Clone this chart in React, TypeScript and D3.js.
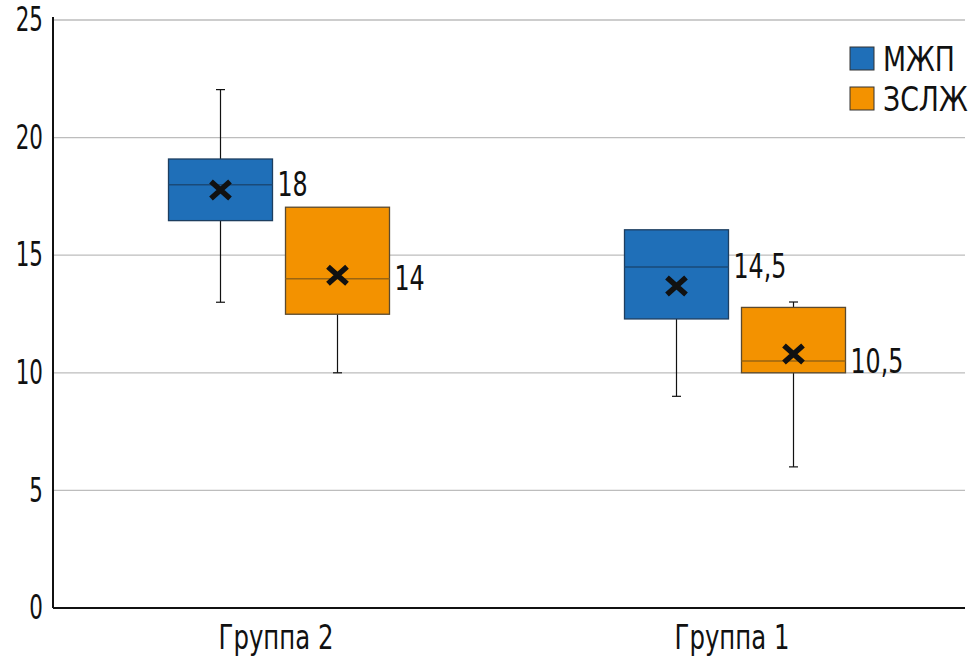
import React from "react";
import * as d3 from "d3";

const groups = ["Группа 2", "Группа 1"];
const seriesNames = ["МЖП", "ЗСЛЖ"];
const seriesColors = ["#1F6FB8", "#F39200"];
const seriesBorders = ["#1d3e60", "#5b4a2e"];
const medianColors = ["#1a4a78", "#9a6512"];

// per series, per group
const whiskerLow = [[13, 9], [10, 6]];
const q1 = [[16.47, 12.29], [12.49, 10]];
const median = [[18, 14.5], [14, 10.5]];
const q3 = [[19.09, 16.08], [17.04, 12.78]];
const whiskerHigh = [[22.04, 16.08], [17.04, 13.01]];
const mean = [[17.77, 13.69], [14.15, 10.8]];
const medianLabels = [["18", "14,5"], ["14", "10,5"]];

const yTicks = [0, 5, 10, 15, 20, 25];

const W = 980;
const H = 659;
const FONT = "'DejaVu Sans', sans-serif";

const T = ({ x, y, sx, children, ...rest }: any) => (
  <g transform={`translate(${x},${y}) scale(${sx},1)`}>
    <text x={0} y={0} fontFamily={FONT} fontSize={33} fill="#111" {...rest}>
      {children}
    </text>
  </g>
);

export default function App() {
  const left = 53;
  const right = 965;
  const top = 20;
  const bottom = 608;

  const y = d3.scaleLinear().domain([0, 25]).range([bottom, top]);
  const x0 = d3.scaleBand().domain(groups).range([left, right]);
  const boxW = 104;
  const gap = 13;
  const boxX = (gi: number, si: number) =>
    (x0(groups[gi]) as number) + x0.bandwidth() / 2 - boxW - gap / 2 + si * (boxW + gap) - 2;

  return (
    <svg width={W} height={H} style={{ position: "absolute", left: 0, top: 0, background: "#fff" }}>
      {yTicks.map((t) => (
        <g key={t}>
          {t > 0 && (
            <line x1={left} x2={right} y1={y(t)} y2={y(t)} stroke="#bdbdbd" strokeWidth={1.3} />
          )}
          <T x={43} y={y(t)} sx={0.65} textAnchor="end" dominantBaseline="central">
            {t}
          </T>
        </g>
      ))}
      <line x1={left} x2={left} y1={top - 3} y2={bottom} stroke="#111" strokeWidth={2} />
      <line x1={left} x2={right} y1={bottom} y2={bottom} stroke="#111" strokeWidth={2} />

      {groups.map((g) => (
        <T key={g} x={(x0(g) as number) + x0.bandwidth() / 2 - 5} y={649} sx={0.74} textAnchor="middle">
          {g}
        </T>
      ))}

      {seriesNames.map((s, si) =>
        groups.map((g, gi) => {
          const bx = boxX(gi, si);
          const cx = bx + boxW / 2;
          const my = y(mean[si][gi]);
          const cap = 4.5;
          return (
            <g key={s + g}>
              <line x1={cx} x2={cx} y1={y(whiskerHigh[si][gi])} y2={y(q3[si][gi])} stroke="#111" strokeWidth={1.2} />
              <line x1={cx} x2={cx} y1={y(q1[si][gi])} y2={y(whiskerLow[si][gi])} stroke="#111" strokeWidth={1.2} />
              {whiskerHigh[si][gi] > q3[si][gi] && (
                <line x1={cx - cap} x2={cx + cap} y1={y(whiskerHigh[si][gi])} y2={y(whiskerHigh[si][gi])} stroke="#111" strokeWidth={1.2} />
              )}
              <line x1={cx - cap} x2={cx + cap} y1={y(whiskerLow[si][gi])} y2={y(whiskerLow[si][gi])} stroke="#111" strokeWidth={1.2} />
              <rect
                x={bx}
                y={y(q3[si][gi])}
                width={boxW}
                height={y(q1[si][gi]) - y(q3[si][gi])}
                fill={seriesColors[si]}
                stroke={seriesBorders[si]}
                strokeWidth={1.3}
              />
              <line
                x1={bx}
                x2={bx + boxW}
                y1={y(median[si][gi])}
                y2={y(median[si][gi])}
                stroke={medianColors[si]}
                strokeWidth={1.5}
              />
              <path
                d={`M${cx - 9.5},${my - 8.5}L${cx + 9.5},${my + 8.5}M${cx + 9.5},${my - 8.5}L${cx - 9.5},${my + 8.5}`}
                stroke="#111"
                strokeWidth={5.5}
                fill="none"
              />
              <T x={bx + boxW + 5} y={y(median[si][gi])} sx={0.72} dominantBaseline="central">
                {medianLabels[si][gi]}
              </T>
            </g>
          );
        })
      )}

      {seriesNames.map((s, si) => (
        <g key={s}>
          <rect x={850} y={47 + si * 40} width={24} height={23} fill={seriesColors[si]} stroke="#333" strokeWidth={1} />
          <T x={883} y={59 + si * 40} sx={0.81} dominantBaseline="central">
            {s}
          </T>
        </g>
      ))}
    </svg>
  );
}
